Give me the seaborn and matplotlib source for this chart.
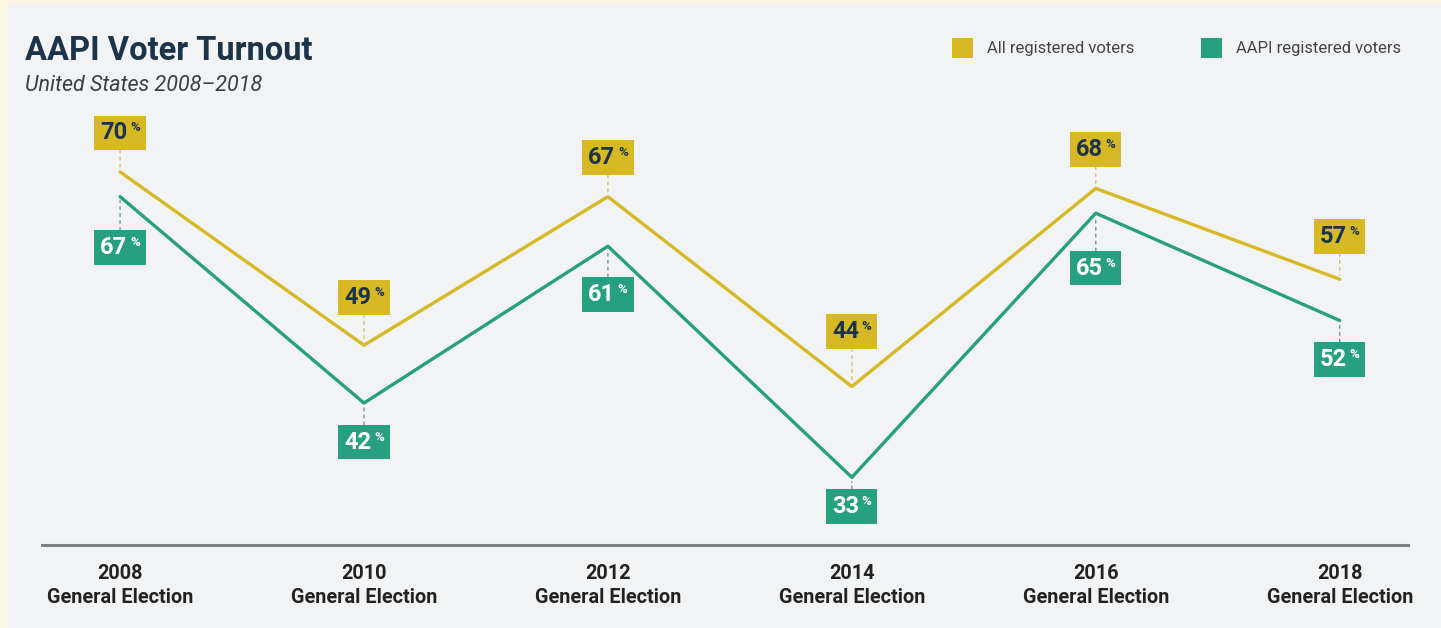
import matplotlib
matplotlib.use("Agg")
import matplotlib.pyplot as plt
import seaborn as sns
import pandas as pd
from matplotlib.patches import Rectangle
from matplotlib.offsetbox import TextArea, HPacker, AnnotationBbox

# ---- data ----
years = ["2008", "2010", "2012", "2014", "2016", "2018"]
tick_suffix = "General Election"
all_voters = [70, 49, 67, 44, 68, 57]
aapi_voters = [67, 42, 61, 33, 65, 52]
series_names = ["All registered voters", "AAPI registered voters"]

# label offsets (pixels, box centre relative to point)
all_offsets = [39, 48, 39, 55, 39, 43]
aapi_offsets = [51, 39, 48, 29, 55, 39]

YELLOW = "#d7b925"
GREEN = "#27a07f"
NAVY = "#1b3449"
BG = "#f1f3f4"
CREAM = "#fdf6e4"

sns.set_theme(style="white")
plt.rcParams["font.family"] = ["Roboto", "DejaVu Sans"]

W, H = 1441, 628
fig = plt.figure(figsize=(W / 100, H / 100), dpi=100, facecolor=CREAM)
fig.patches.append(Rectangle((8 / W, 0), 1 - 8 / W, 1 - 3 / H, transform=fig.transFigure,
                             facecolor=BG, edgecolor="none", zorder=-5))

ax = fig.add_axes([42 / W, (H - 545) / H, (1408 - 42) / W, (545 - 110) / H])
ax.set_facecolor("none")
ax.set_zorder(2)

df = pd.DataFrame({
    "idx": list(range(len(years))) * 2,
    "value": all_voters + aapi_voters,
    "series": [series_names[0]] * len(years) + [series_names[1]] * len(years),
})
sns.lineplot(data=df, x="idx", y="value", hue="series",
             palette={series_names[0]: YELLOW, series_names[1]: GREEN},
             linewidth=2.4, legend=False, ax=ax)

ax.set_xlim(-0.32, 5.28)
ax.set_ylim(24.8, 77.5)
ax.set_xlabel("")
ax.set_ylabel("")
ax.set_yticks([])
ax.set_xticks(range(len(years)))
ax.set_xticklabels([f"{y}\n{tick_suffix}" for y in years], fontsize=14.3, color="#222222",
                   fontweight="bold", linespacing=1.3)
ax.tick_params(axis="x", length=0, pad=14)
for s in ["top", "left", "right"]:
    ax.spines[s].set_visible(False)
ax.spines["bottom"].set_color("#7d7f80")
ax.spines["bottom"].set_linewidth(2.2)


def add_label(x, v, off_px, face, tcolor, dotcolor):
    num = TextArea(f"{v}", textprops=dict(fontsize=17, fontweight="bold", color=tcolor))
    pct = TextArea("%", textprops=dict(fontsize=9.5, fontweight="bold", color=tcolor))
    pack = HPacker(children=[num, pct], align="top", pad=0, sep=2)
    ab = AnnotationBbox(pack, (x, v), xybox=(0, off_px * 0.72), xycoords="data",
                        boxcoords="offset points", frameon=True, pad=0.38,
                        bboxprops=dict(facecolor=face, edgecolor="none", boxstyle="square,pad=0.38"),
                        arrowprops=dict(arrowstyle="-", linestyle=(0, (2, 3)), color=dotcolor,
                                        linewidth=1.0, shrinkA=0, shrinkB=3))
    ax.add_artist(ab)


for i, v in enumerate(all_voters):
    add_label(i, v, all_offsets[i], YELLOW, NAVY, "#d9c25a")
for i, v in enumerate(aapi_voters):
    add_label(i, v, -aapi_offsets[i], GREEN, "white", "#6f9a90")

# title
fig.text(25 / W, 1 - 60 / H, "AAPI Voter Turnout", fontsize=23.5, fontweight="bold",
         color=NAVY, ha="left", va="baseline")
fig.text(25 / W, 1 - 91 / H, "United States 2008–2018", fontsize=15.5, fontstyle="italic",
         color="#3a3f44", ha="left", va="baseline")

# legend
for xs, col, name in [(952, YELLOW, series_names[0]), (1201, GREEN, series_names[1])]:
    fig.patches.append(Rectangle((xs / W, 1 - 58 / H), 21 / W, 20 / H, transform=fig.transFigure,
                                 facecolor=col, edgecolor="none"))
    fig.text((xs + 35) / W, 1 - 48 / H, name, fontsize=12, color="#444444",
             ha="left", va="center")

fig.savefig("out.png", dpi=100, facecolor=CREAM)
